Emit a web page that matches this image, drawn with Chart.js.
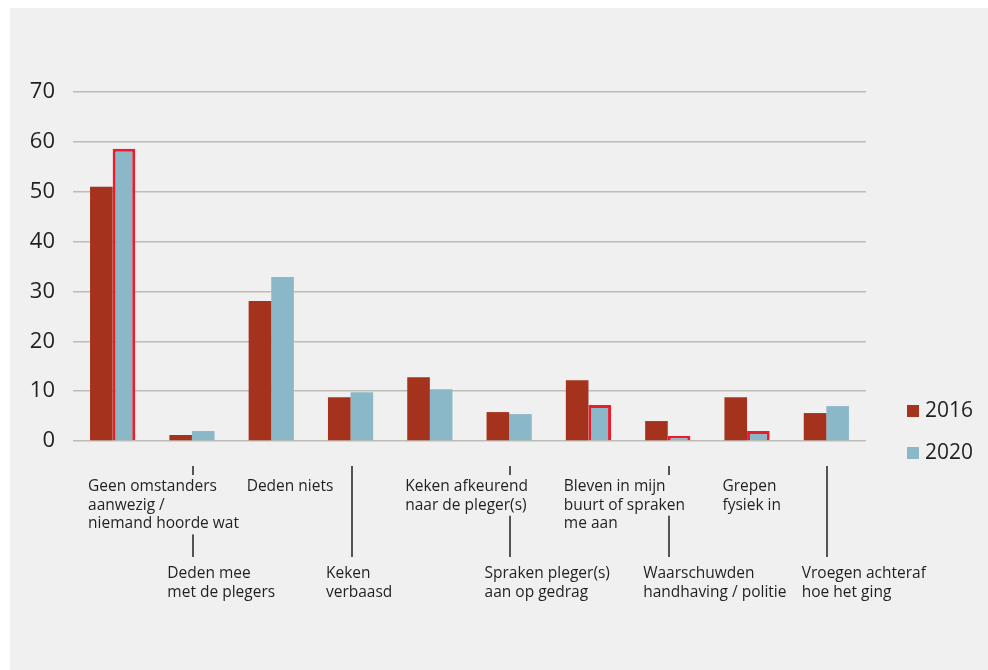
<!DOCTYPE html>
<html>
<head>
<meta charset="utf-8">
<script src="https://cdn.jsdelivr.net/npm/chart.js@4"></script>
<style>
  html, body { margin: 0; padding: 0; background: #ffffff; }
  #wrap { position: absolute; left: 10px; top: 8px; width: 978px; height: 662px; background: #f0f0f0; }
</style>
</head>
<body>
<div id="wrap"><canvas id="grafico" width="978" height="662"></canvas></div>
<script>
// categorieën (tekst onder de as, per regel)
var categorieen = [
  ['Geen omstanders', 'aanwezig /', 'niemand hoorde wat'],
  ['Deden mee', 'met de plegers'],
  ['Deden niets'],
  ['Keken', 'verbaasd'],
  ['Keken afkeurend', 'naar de pleger(s)'],
  ['Spraken pleger(s)', 'aan op gedrag'],
  ['Bleven in mijn', 'buurt of spraken', 'me aan'],
  ['Waarschuwden', 'handhaving / politie'],
  ['Grepen', 'fysiek in'],
  ['Vroegen achteraf', 'hoe het ging']
];

var waarden2016 = [51, 1.2, 28.1, 8.8, 12.8, 5.8, 12.2, 4.0, 8.8, 5.6];
var waarden2020 = [58.6, 2.0, 32.9, 9.8, 10.4, 5.4, 7.2, 1.0, 2.0, 7.0];
// 2020-balken met rode rand
var gemarkeerd2020 = [true, false, false, false, false, false, true, true, true, false];

var yTicks = [0, 10, 20, 30, 40, 50, 60, 70];

var KLEUR_2016 = '#a5321c';
var KLEUR_2020 = '#8bb8c9';
var KLEUR_RAND = '#ed1c2a';
var ACHTERGROND = '#f0f0f0';
var TEKST = '#231f20';
var FONT = '"Open Sans", sans-serif';

// labels onder de as + legenda tekenen
var labelsPlugin = {
  id: 'labelsOnder',
  afterDraw: function (chart) {
    var ctx = chart.ctx;
    var area = chart.chartArea;
    var xAs = chart.scales.x;
    var meta0 = chart.getDatasetMeta(0);
    ctx.save();
    ctx.font = '15.5px ' + FONT;
    ctx.textBaseline = 'alphabetic';
    ctx.textAlign = 'left';

    var regelHoogte = 18.7;

    // verbindingslijnen voor de onderste rij
    for (var i = 1; i < categorieen.length; i += 2) {
      var lx = Math.round(xAs.getPixelForValue(i)) + 1;
      ctx.strokeStyle = TEKST;
      ctx.lineWidth = 1.5;
      ctx.beginPath();
      ctx.moveTo(lx, area.bottom + 25);
      ctx.lineTo(lx, area.bottom + 116);
      ctx.stroke();
    }

    for (var i = 0; i < categorieen.length; i++) {
      var bar = meta0.data[i];
      var links = bar.x - bar.width / 2 - 2;
      var regels = categorieen[i];
      var boven = (i % 2 == 0);
      var basis = boven ? area.bottom + 50 : area.bottom + 137;

      if (boven) {
        // achtergrond vrijmaken waar de tekst staat
        for (var j = 0; j < regels.length; j++) {
          var breedte = 0;
          for (var k = j; k < regels.length; k++) {
            breedte = Math.max(breedte, ctx.measureText(regels[k]).width);
          }
          var by = basis + j * regelHoogte;
          ctx.fillStyle = ACHTERGROND;
          ctx.fillRect(links - 2, by - 16, breedte + 4, 22);
        }
      }

      ctx.fillStyle = TEKST;
      for (var j = 0; j < regels.length; j++) {
        ctx.fillText(regels[j], links, basis + j * regelHoogte);
      }
    }

    // legenda
    var lxs = area.right + 41;
    var items = [
      { tekst: chart.data.datasets[0].label, kleur: chart.data.datasets[0].backgroundColor, y: area.bottom - 36 },
      { tekst: chart.data.datasets[1].label, kleur: chart.data.datasets[1].backgroundColor, y: area.bottom + 6 }
    ];
    ctx.font = '21px ' + FONT;
    items.forEach(function (it) {
      ctx.fillStyle = it.kleur;
      ctx.fillRect(lxs, it.y, 12, 12);
      ctx.fillStyle = TEKST;
      ctx.fillText(it.tekst, lxs + 18, it.y + 12);
    });
    ctx.restore();
  }
};

var dados = {
  labels: categorieen.map(function (c) { return c.join(' '); }),
  datasets: [
    {
      label: '2016',
      data: waarden2016,
      backgroundColor: KLEUR_2016,
      borderWidth: 0
    },
    {
      label: '2020',
      data: waarden2020,
      backgroundColor: KLEUR_2020,
      borderColor: KLEUR_RAND,
      borderWidth: gemarkeerd2020.map(function (g) { return g ? 3 : 0; })
    }
  ]
};

const config = {
  type: 'bar',
  data: dados,
  plugins: [labelsPlugin],
  options: {
    responsive: false,
    animation: false,
    devicePixelRatio: 1,
    layout: { padding: { top: 84, right: 122, bottom: 229, left: 0 } },
    datasets: { bar: { categoryPercentage: 0.57, barPercentage: 1.0 } },
    plugins: {
      legend: { display: false },
      tooltip: { enabled: false }
    },
    scales: {
      x: {
        display: false
      },
      y: {
        min: 0,
        max: 70,
        afterFit: function (scale) { scale.width = 63; },
        afterBuildTicks: function (scale) {
          scale.ticks = yTicks.map(function (v) { return { value: v }; });
        },
        border: { display: false },
        grid: { color: '#bfbcb5', lineWidth: 1.5, drawTicks: false },
        ticks: {
          padding: 18,
          color: TEKST,
          font: { family: FONT, size: 22 }
        }
      }
    }
  }
};

let myChart = new Chart(document.getElementById('grafico'), config);
</script>
</body>
</html>
